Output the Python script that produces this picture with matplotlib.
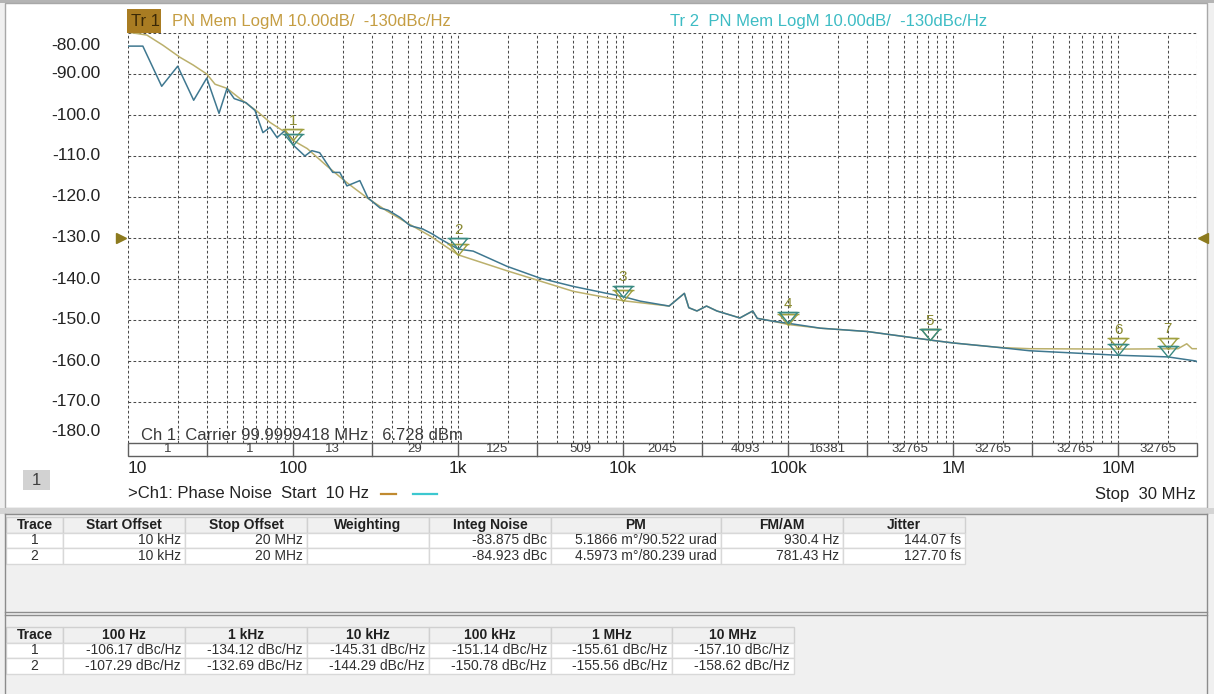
import numpy as np
import matplotlib.pyplot as plt
from matplotlib.patches import Rectangle
from matplotlib.path import Path
from matplotlib.transforms import offset_copy

plt.rcParams['font.family'] = ['Liberation Sans', 'DejaVu Sans']

# ---- trace data (offset freq in Hz, phase noise in dBc/Hz) ----
freq1 = [10, 13, 16.3, 20.6, 24.8, 30, 33.7, 39.8, 47.7, 60.6, 72.5, 92, 100, 122, 160,
         212, 281, 370, 490, 677, 1000, 1980, 3140, 4980, 10000, 19000, 23500, 25000,
         28000, 32000, 37000, 51000, 61000, 65000, 81000, 100000, 157000, 300000,
         760000, 1e6, 1.9e6, 2.9e6, 1e7, 2.3e7, 2.6e7, 2.8e7, 3e7]
pn1 = [-79.8, -80.5, -83.0, -85.9, -87.8, -90.0, -92.5, -93.5, -96.0, -99.1, -101.8,
       -104.5, -106.2, -108.2, -112.4, -116.5, -120.2, -123.4, -126.3, -129.5, -134.1,
       -138.0, -140.5, -143.0, -145.3, -146.6, -143.5, -147.0, -147.8, -146.6, -147.8,
       -149.5, -147.8, -149.6, -150.3, -151.1, -152.0, -152.8, -155.0, -155.6, -156.7,
       -157.0, -157.1, -157.0, -155.8, -157.0, -157.0]

freq2 = [10, 12.3, 16, 20, 25, 30, 35.6, 39.8, 44, 51.9, 58.8, 65.7, 72.5, 80, 89.4, 100,
         118, 130, 145, 174, 192, 212, 254, 284, 337, 376, 446, 512, 611, 697, 778, 1000,
         1234, 1976, 3140, 4980, 7950, 10000, 12700, 19000, 23500, 25000, 28000, 32000,
         37000, 51000, 61000, 65000, 81000, 100000, 157000, 300000, 760000, 1e6, 1.9e6,
         2.9e6, 1e7, 2e7, 2.95e7, 3e7]
pn2 = [-83.2, -83.2, -93.0, -88.1, -96.4, -91.0, -99.6, -93.5, -96.0, -97.0, -98.9,
       -104.3, -103.0, -105.5, -103.8, -107.3, -110.0, -108.7, -109.2, -114.0, -114.0,
       -117.3, -116.0, -120.2, -122.7, -123.2, -125.0, -127.0, -127.8, -129.0, -130.2,
       -132.7, -133.2, -136.9, -139.8, -141.8, -143.5, -144.3, -145.4, -146.6, -143.5,
       -147.0, -147.8, -146.6, -147.8, -149.5, -147.8, -149.6, -150.3, -150.8, -152.0,
       -152.8, -155.0, -155.6, -156.7, -157.5, -158.6, -159.0, -160.0, -160.2]

# ---- markers ----
mark_num = ['1', '2', '3', '4', '5', '6', '7']
mark_freq = [100, 1e3, 1e4, 1e5, 7.2e5, 1e7, 2e7]
mark_t1 = [-106.17, -134.12, -145.31, -151.14, -154.9, -157.10, -157.0]
mark_t2 = [-107.29, -132.69, -144.29, -150.78, -154.9, -158.62, -159.0]

# ---- segment strip under the grid ----
seg_edges = [10, 30, 100, 300, 1e3, 3e3, 1e4, 3e4, 1e5, 3e5, 1e6, 3e6, 1e7, 3e7]
seg_counts = ['1', '1', '13', '29', '125', '509', '2045', '4093', '16381',
              '32765', '32765', '32765', '32765']

xtick_vals = [10, 100, 1e3, 1e4, 1e5, 1e6, 1e7]
xtick_text = ['10', '100', '1k', '10k', '100k', '1M', '10M']
ytick_vals = [-80, -90, -100, -110, -120, -130, -140, -150, -160, -170, -180]
ytick_text = ['-80.00', '-90.00', '-100.0', '-110.0', '-120.0', '-130.0', '-140.0',
              '-150.0', '-160.0', '-170.0', '-180.0']

# ---- tables ----
tab1_head = ['Trace', 'Start Offset', 'Stop Offset', 'Weighting', 'Integ Noise', 'PM',
             'FM/AM', 'Jitter']
tab1_rows = [['1', '10 kHz', '20 MHz', '', '-83.875 dBc', '5.1866 m°/90.522 urad',
              '930.4 Hz', '144.07 fs'],
             ['2', '10 kHz', '20 MHz', '', '-84.923 dBc', '4.5973 m°/80.239 urad',
              '781.43 Hz', '127.70 fs']]
tab2_head = ['Trace', '100 Hz', '1 kHz', '10 kHz', '100 kHz', '1 MHz', '10 MHz']
tab2_rows = [['1', '-106.17 dBc/Hz', '-134.12 dBc/Hz', '-145.31 dBc/Hz', '-151.14 dBc/Hz',
              '-155.61 dBc/Hz', '-157.10 dBc/Hz'],
             ['2', '-107.29 dBc/Hz', '-132.69 dBc/Hz', '-144.29 dBc/Hz', '-150.78 dBc/Hz',
              '-155.56 dBc/Hz', '-158.62 dBc/Hz']]

W, H = 1214, 694
fig = plt.figure(figsize=(W / 100, H / 100), dpi=100)
fig.patch.set_facecolor('#f0f0f0')

# background axes in pixel units (y down)
bg = fig.add_axes([0, 0, 1, 1], zorder=0)
bg.set_xlim(0, W)
bg.set_ylim(H, 0)
bg.axis('off')

bg.add_patch(Rectangle((0, 0), W, 3, fc='#b4b4b4', ec='none'))
bg.add_patch(Rectangle((5, 3), 1202, 505, fc='white', ec='#a8a8a8', lw=1))
bg.add_patch(Rectangle((0, 508), W, 6, fc='#d4d4d4', ec='none'))
bg.plot([5, 1207], [514, 514], color='#8c8c8c', lw=1)
bg.plot([5, 1207], [612, 612], color='#8c8c8c', lw=1)
bg.plot([5, 1207], [615, 615], color='#8c8c8c', lw=1)
bg.plot([5, 5], [514, H], color='#8c8c8c', lw=1)
bg.plot([1207, 1207], [514, H], color='#8c8c8c', lw=1)

# header
bg.add_patch(Rectangle((127, 9), 34, 24, fc='#a97c22', ec='none'))
bg.text(131, 21, 'Tr 1', fontsize=12, color='#3a2806', va='center')
bg.text(172, 21, 'PN Mem LogM 10.00dB/  -130dBc/Hz', fontsize=12, color='#c59d42', va='center')
bg.text(670, 21, 'Tr 2  PN Mem LogM 10.00dB/  -130dBc/Hz', fontsize=12, color='#3dbcc4',
        va='center')

# main plot
ax = fig.add_axes([128 / W, 1 - 443 / H, (1197 - 128) / W, (443 - 33) / H], zorder=2)
ax.patch.set_alpha(0)
ax.set_xscale('log')
ax.set_xlim(10, 3e7)
ax.set_ylim(-180, -80)
for sp in ax.spines.values():
    sp.set_visible(False)
ax.tick_params(which='both', length=0, labelbottom=False, labelleft=False)

grid_style = dict(color='#4a4a4a', lw=0.75, ls=(0, (2.6, 2.2)), zorder=1)
for v in ytick_vals:
    ax.axhline(v, **grid_style)
vlines = [m * 10 ** e for e in range(1, 8) for m in range(1, 10) if m * 10 ** e <= 3e7]
for f in vlines:
    ax.axvline(f, **grid_style)

ax.plot(freq1, pn1, color='#bbb06c', lw=1.1, zorder=3)
ax.plot(freq2, pn2, color='#3f7890', lw=1.1, zorder=4)

# marker glyph: bar on top of a down triangle, tip at origin
mverts = [(-11, 11), (11, 11), (-9, 11), (9, 11), (0, 0), (-9, 11)]
mcodes = [Path.MOVETO, Path.LINETO, Path.MOVETO, Path.LINETO, Path.LINETO, Path.CLOSEPOLY]
mpath = Path(mverts, mcodes)
for n, f, v1, v2 in zip(mark_num, mark_freq, mark_t1, mark_t2):
    ax.plot([f], [v1], marker=mpath, ms=15.8, mfc='none', mec='#a0a040', mew=1.0,
            zorder=5, clip_on=False)
    ax.plot([f], [v2], marker=mpath, ms=15.8, mfc='none', mec='#3a8a82', mew=1.0,
            zorder=5, clip_on=False)
    tr = offset_copy(ax.transData, fig=fig, y=14, units='points')
    ax.text(f, max(v1, v2), n, transform=tr, fontsize=11, color='#8a8a32',
            ha='center', va='center', zorder=6)

# reference level arrows
ax.plot([-0.0065], [-130], marker='>', ms=7, color='#8c7a1e',
        transform=ax.get_yaxis_transform(), clip_on=False)
ax.plot([1.0056], [-130], marker='<', ms=7, color='#8c7a1e',
        transform=ax.get_yaxis_transform(), clip_on=False)

# y labels
for v, t in zip(ytick_vals, ytick_text):
    dy = -12 if v == -80 else (11 if v == -180 else 0)
    tr = offset_copy(ax.get_yaxis_transform(), fig=fig, y=dy * 0.72, units='points')
    ax.text(-0.026, v, t, transform=tr, ha='right', va='center', fontsize=12.5,
            color='#222222')

# segment strip
xt = ax.get_xaxis_transform()
s_top, s_bot = 0.0, -0.0317
ax.add_patch(Rectangle((seg_edges[0], s_bot), seg_edges[-1] - seg_edges[0], s_top - s_bot,
                       transform=xt, fc='white', ec='#606060', lw=1, clip_on=False, zorder=6))
for e in seg_edges[1:-1]:
    ax.plot([e, e], [s_bot, s_top], transform=xt, color='#606060', lw=1, clip_on=False,
            zorder=7)
for a, b, c in zip(seg_edges[:-1], seg_edges[1:], seg_counts):
    ax.text(np.sqrt(a * b), (s_top + s_bot) / 2, c, transform=xt, ha='center', va='center',
            fontsize=9.5, color='#404040', zorder=8)

bg.text(141, 435, 'Ch 1: Carrier 99.9999418 MHz   6.728 dBm', fontsize=12, color='#3a3a3a',
        va='center', zorder=10)

# x labels
for v, t in zip(xtick_vals, xtick_text):
    ax.text(v, -0.061, t, transform=xt, ha='left' if v == 10 else 'center', va='center',
            fontsize=12.5, color='#222222')

bg.text(128, 493, '>Ch1: Phase Noise  Start  10 Hz', fontsize=12, color='#222222',
        va='center')
bg.plot([381, 396], [494, 494], color='#c08a30', lw=1.6)
bg.plot([413, 437], [494, 494], color='#3cc8d0', lw=1.6)
bg.text(1196, 494, 'Stop  30 MHz', fontsize=12, color='#222222', va='center', ha='right')
bg.add_patch(Rectangle((23, 470), 27, 20, fc='#d2d2d2', ec='none'))
bg.text(36.5, 480, '1', fontsize=12, color='#404040', ha='center', va='center')


def draw_table(cols, top, rh, head, rows):
    y = top
    for i in range(len(head)):
        bg.add_patch(Rectangle((cols[i], y), cols[i + 1] - cols[i], rh, fc='#f0f0f0',
                               ec='#d0d0d0', lw=1))
        bg.text((cols[i] + cols[i + 1]) / 2, y + rh / 2, head[i], fontsize=10,
                fontweight='bold', ha='center', va='center', color='#202020')
    for row in rows:
        y += rh
        for i, cell in enumerate(row):
            bg.add_patch(Rectangle((cols[i], y), cols[i + 1] - cols[i], rh, fc='white',
                                   ec='#d8d8d8', lw=1))
            if i == 0:
                bg.text((cols[i] + cols[i + 1]) / 2, y + rh / 2, cell, fontsize=10,
                        ha='center', va='center', color='#303030')
            else:
                bg.text(cols[i + 1] - 4, y + rh / 2, cell, fontsize=10, ha='right',
                        va='center', color='#303030')


draw_table([6, 63, 185, 307, 429, 551, 721, 843, 965], 517, 15.5, tab1_head, tab1_rows)
draw_table([6, 63, 185, 307, 429, 551, 672, 794], 627, 15.5, tab2_head, tab2_rows)

fig.savefig('out.png', dpi=100, facecolor=fig.get_facecolor())
